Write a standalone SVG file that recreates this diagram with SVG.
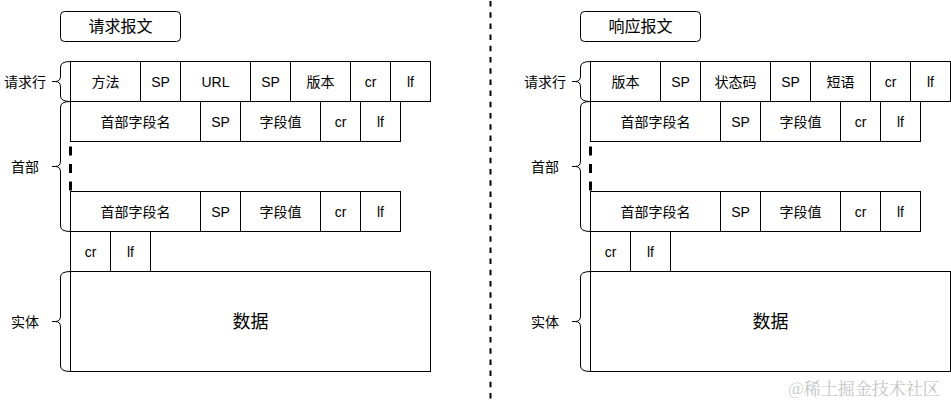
<svg xmlns="http://www.w3.org/2000/svg" width="951" height="404" viewBox="0 0 951 404">
<style>
.c{fill:#fff;stroke:#000;stroke-width:1}
.t{font-family:"Liberation Sans","Noto Sans CJK SC",sans-serif;font-size:14px;fill:#000;text-anchor:middle}
.h{font-size:16px}
.d{font-size:18px}
.br{fill:none;stroke:#000;stroke-width:1}
.dots{fill:none;stroke:#000;stroke-width:3;stroke-dasharray:9 8.5}
</style>
<rect width="951" height="404" fill="#fff"/>
<g id="connectors">
<path id="divider" d="M490.5,1 V404" fill="none" stroke="#000" stroke-width="2" stroke-dasharray="5.5 5.7"/>
<path class="br" d="M52,81.5 H55.5 Q60.5,81.5 60.5,76 V67 Q60.5,61.5 70.5,61.5 M55.5,81.5 Q60.5,81.5 60.5,87 V96 Q60.5,101.5 70.5,101.5"/>
<path class="br" d="M52,166.5 H55.5 Q60.5,166.5 60.5,161 V107 Q60.5,101.5 70.5,101.5 M55.5,166.5 Q60.5,166.5 60.5,172 V226 Q60.5,231.5 70.5,231.5"/>
<path class="br" d="M52,321.5 H55.5 Q60.5,321.5 60.5,316 V277 Q60.5,271.5 70.5,271.5 M55.5,321.5 Q60.5,321.5 60.5,327 V366 Q60.5,371.5 70.5,371.5"/>
<path class="dots" d="M70.5,146.5 V191"/>
<path class="br" d="M572,81.5 H575.5 Q580.5,81.5 580.5,76 V67 Q580.5,61.5 590.5,61.5 M575.5,81.5 Q580.5,81.5 580.5,87 V96 Q580.5,101.5 590.5,101.5"/>
<path class="br" d="M572,166.5 H575.5 Q580.5,166.5 580.5,161 V107 Q580.5,101.5 590.5,101.5 M575.5,166.5 Q580.5,166.5 580.5,172 V226 Q580.5,231.5 590.5,231.5"/>
<path class="br" d="M572,321.5 H575.5 Q580.5,321.5 580.5,316 V277 Q580.5,271.5 590.5,271.5 M575.5,321.5 Q580.5,321.5 580.5,327 V366 Q580.5,371.5 590.5,371.5"/>
<path class="dots" d="M590.5,146.5 V191"/>
</g>
<g id="req-title"><rect class="c" x="60.5" y="11.5" width="120" height="30" rx="4"/><text class="t h" x="120.5" y="32">请求报文</text></g>
<g id="req-label-line"><text class="t" x="25" y="86.5">请求行</text></g>
<g id="req-label-head"><text class="t" x="25" y="171.5">首部</text></g>
<g id="req-label-body"><text class="t" x="25" y="326.5">实体</text></g>
<g id="req-r1-method"><rect class="c" x="70.5" y="61.5" width="70" height="40"/><text class="t" x="105.5" y="86.5">方法</text></g>
<g id="req-r1-sp1"><rect class="c" x="140.5" y="61.5" width="40" height="40"/><text class="t" x="160.5" y="86.5">SP</text></g>
<g id="req-r1-url"><rect class="c" x="180.5" y="61.5" width="70" height="40"/><text class="t" x="215.5" y="86.5">URL</text></g>
<g id="req-r1-sp2"><rect class="c" x="250.5" y="61.5" width="40" height="40"/><text class="t" x="270.5" y="86.5">SP</text></g>
<g id="req-r1-ver"><rect class="c" x="290.5" y="61.5" width="60" height="40"/><text class="t" x="320.5" y="86.5">版本</text></g>
<g id="req-r1-cr"><rect class="c" x="350.5" y="61.5" width="40" height="40"/><text class="t" x="370.5" y="86.5">cr</text></g>
<g id="req-r1-lf"><rect class="c" x="390.5" y="61.5" width="40" height="40"/><text class="t" x="410.5" y="86.5">lf</text></g>
<g id="req-h1-name"><rect class="c" x="70.5" y="101.5" width="130" height="40"/><text class="t" x="135.5" y="126.5">首部字段名</text></g>
<g id="req-h1-sp"><rect class="c" x="200.5" y="101.5" width="40" height="40"/><text class="t" x="220.5" y="126.5">SP</text></g>
<g id="req-h1-val"><rect class="c" x="240.5" y="101.5" width="80" height="40"/><text class="t" x="280.5" y="126.5">字段值</text></g>
<g id="req-h1-cr"><rect class="c" x="320.5" y="101.5" width="40" height="40"/><text class="t" x="340.5" y="126.5">cr</text></g>
<g id="req-h1-lf"><rect class="c" x="360.5" y="101.5" width="40" height="40"/><text class="t" x="380.5" y="126.5">lf</text></g>
<g id="req-h2-name"><rect class="c" x="70.5" y="191.5" width="130" height="40"/><text class="t" x="135.5" y="216.5">首部字段名</text></g>
<g id="req-h2-sp"><rect class="c" x="200.5" y="191.5" width="40" height="40"/><text class="t" x="220.5" y="216.5">SP</text></g>
<g id="req-h2-val"><rect class="c" x="240.5" y="191.5" width="80" height="40"/><text class="t" x="280.5" y="216.5">字段值</text></g>
<g id="req-h2-cr"><rect class="c" x="320.5" y="191.5" width="40" height="40"/><text class="t" x="340.5" y="216.5">cr</text></g>
<g id="req-h2-lf"><rect class="c" x="360.5" y="191.5" width="40" height="40"/><text class="t" x="380.5" y="216.5">lf</text></g>
<g id="req-e-cr"><rect class="c" x="70.5" y="231.5" width="40" height="40"/><text class="t" x="90.5" y="256.5">cr</text></g>
<g id="req-e-lf"><rect class="c" x="110.5" y="231.5" width="40" height="40"/><text class="t" x="130.5" y="256.5">lf</text></g>
<g id="req-body"><rect class="c" x="70.5" y="271.5" width="360" height="100"/><text class="t d" x="250.5" y="328">数据</text></g>
<g id="res-title"><rect class="c" x="580.5" y="11.5" width="120" height="30" rx="4"/><text class="t h" x="640.5" y="32">响应报文</text></g>
<g id="res-label-line"><text class="t" x="545" y="86.5">请求行</text></g>
<g id="res-label-head"><text class="t" x="545" y="171.5">首部</text></g>
<g id="res-label-body"><text class="t" x="545" y="326.5">实体</text></g>
<g id="res-r1-ver"><rect class="c" x="590.5" y="61.5" width="70" height="40"/><text class="t" x="625.5" y="86.5">版本</text></g>
<g id="res-r1-sp1"><rect class="c" x="660.5" y="61.5" width="40" height="40"/><text class="t" x="680.5" y="86.5">SP</text></g>
<g id="res-r1-code"><rect class="c" x="700.5" y="61.5" width="70" height="40"/><text class="t" x="735.5" y="86.5">状态码</text></g>
<g id="res-r1-sp2"><rect class="c" x="770.5" y="61.5" width="40" height="40"/><text class="t" x="790.5" y="86.5">SP</text></g>
<g id="res-r1-phrase"><rect class="c" x="810.5" y="61.5" width="60" height="40"/><text class="t" x="840.5" y="86.5">短语</text></g>
<g id="res-r1-cr"><rect class="c" x="870.5" y="61.5" width="40" height="40"/><text class="t" x="890.5" y="86.5">cr</text></g>
<g id="res-r1-lf"><rect class="c" x="910.5" y="61.5" width="40" height="40"/><text class="t" x="930.5" y="86.5">lf</text></g>
<g id="res-h1-name"><rect class="c" x="590.5" y="101.5" width="130" height="40"/><text class="t" x="655.5" y="126.5">首部字段名</text></g>
<g id="res-h1-sp"><rect class="c" x="720.5" y="101.5" width="40" height="40"/><text class="t" x="740.5" y="126.5">SP</text></g>
<g id="res-h1-val"><rect class="c" x="760.5" y="101.5" width="80" height="40"/><text class="t" x="800.5" y="126.5">字段值</text></g>
<g id="res-h1-cr"><rect class="c" x="840.5" y="101.5" width="40" height="40"/><text class="t" x="860.5" y="126.5">cr</text></g>
<g id="res-h1-lf"><rect class="c" x="880.5" y="101.5" width="40" height="40"/><text class="t" x="900.5" y="126.5">lf</text></g>
<g id="res-h2-name"><rect class="c" x="590.5" y="191.5" width="130" height="40"/><text class="t" x="655.5" y="216.5">首部字段名</text></g>
<g id="res-h2-sp"><rect class="c" x="720.5" y="191.5" width="40" height="40"/><text class="t" x="740.5" y="216.5">SP</text></g>
<g id="res-h2-val"><rect class="c" x="760.5" y="191.5" width="80" height="40"/><text class="t" x="800.5" y="216.5">字段值</text></g>
<g id="res-h2-cr"><rect class="c" x="840.5" y="191.5" width="40" height="40"/><text class="t" x="860.5" y="216.5">cr</text></g>
<g id="res-h2-lf"><rect class="c" x="880.5" y="191.5" width="40" height="40"/><text class="t" x="900.5" y="216.5">lf</text></g>
<g id="res-e-cr"><rect class="c" x="590.5" y="231.5" width="40" height="40"/><text class="t" x="610.5" y="256.5">cr</text></g>
<g id="res-e-lf"><rect class="c" x="630.5" y="231.5" width="40" height="40"/><text class="t" x="650.5" y="256.5">lf</text></g>
<g id="res-body"><rect class="c" x="590.5" y="271.5" width="360" height="100"/><text class="t d" x="770.5" y="328">数据</text></g>
<g id="watermark"><text x="864" y="395" font-family="'Noto Serif CJK SC','Noto Sans CJK SC',serif" font-size="17" fill="#c4c4c4" text-anchor="middle">@稀土掘金技术社区</text></g>
</svg>
